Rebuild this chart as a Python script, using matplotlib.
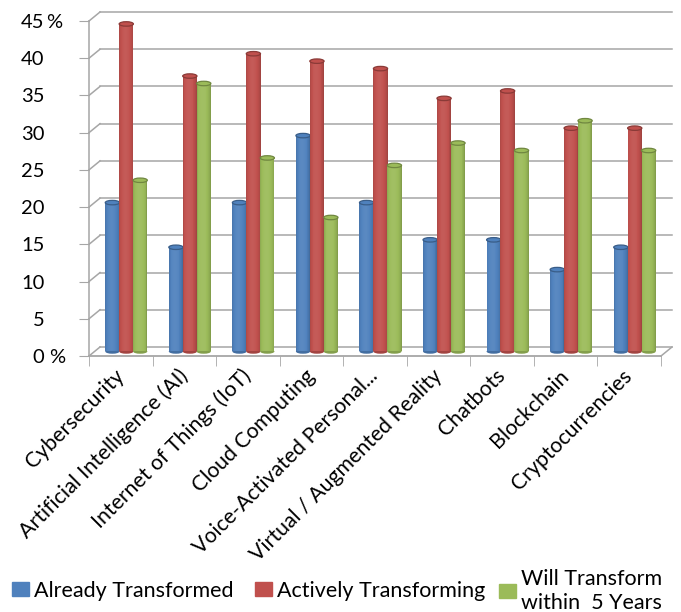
import numpy as np
import matplotlib.pyplot as plt
import matplotlib.patches as mpatches
from matplotlib.patches import Ellipse

plt.rcParams['font.family'] = ['Lato', 'DejaVu Sans']

categories = ['Cybersecurity', 'Artificial Intelligence (AI)', 'Internet of Things (IoT)',
              'Cloud Computing', 'Voice-Activated Personal...', 'Virtual / Augmented Reality',
              'Chatbots', 'Blockchain', 'Cryptocurrencies']
already = [20, 14, 20, 29, 20, 15, 15, 11, 14]
actively = [44, 37, 40, 39, 38, 34, 35, 30, 30]
within5 = [23, 36, 26, 18, 25, 28, 27, 31, 27]
series_names = ['Already Transformed', 'Actively Transforming', 'Will Transform\nwithin  5 Years']
colors = ['#4F81BD', '#C0504D', '#9BBB59']

W, H = 681, 612
fig = plt.figure(figsize=(W / 100, H / 100), dpi=100)
# front plane of the 3d box
ax = fig.add_axes([89 / W, (H - 356) / H, (661 - 89) / W, (356 - 21) / H])
ax.set_xlim(0, 9)
ax.set_ylim(0, 45)
for s in ax.spines.values():
    s.set_visible(False)

# depth offset (back wall) in data units
DX = 11 / 63.5
DY = 9 / 7.44
grid_c = '#A6A6A6'

yt = np.arange(0, 46, 5)
for v in yt:
    ax.plot([DX, 9 + DX], [v + DY, v + DY], color=grid_c, lw=1.1, clip_on=False, zorder=1)
    ax.plot([0, DX], [v, v + DY], color=grid_c, lw=1.1, clip_on=False, zorder=1)
# floor
ax.plot([0, 9], [0, 0], color=grid_c, lw=1.3, clip_on=False, zorder=1)
ax.plot([9, 9 + DX], [0, DY], color=grid_c, lw=1.1, clip_on=False, zorder=1)
ax.plot([0, 0], [0, 45], color=grid_c, lw=1.1, clip_on=False, zorder=1)

# ticks
ax.set_yticks(yt)
ax.set_yticklabels([str(v) for v in yt], fontsize=14.5, color='black')
ax.tick_params(axis='y', length=7, color=grid_c, pad=25)
ax.text(-0.075, 45, '%', transform=ax.get_yaxis_transform(), fontsize=14.5,
        ha='left', va='center_baseline')
ax.text(-0.07, 0, '%', transform=ax.get_yaxis_transform(), fontsize=14.5,
        ha='left', va='center_baseline')

ax.set_xticks(np.arange(0, 10), minor=True)
ax.set_xticks(np.arange(9) + 0.5)
ax.set_xticklabels(categories, rotation=45, ha='right', va='center',
                   rotation_mode='anchor', fontsize=15.3)
ax.tick_params(axis='x', which='major', length=0, pad=12)
ax.tick_params(axis='x', which='minor', length=7, color=grid_c)

# cylinders
bw = 0.224
offs = [-0.219, 0.0, 0.219]
N = 16
t = (np.arange(N) + 0.5) / N
shade = 0.84 + 0.26 * np.sin(np.pi * t) ** 0.5 - 0.08 * t
cap_h = 0.6


def tint(c, f):
    rgb = np.array(mpatches.Patch(color=c).get_facecolor()[:3])
    if f >= 1:
        return tuple(rgb + (1 - rgb) * (f - 1))
    return tuple(rgb * f)


for si, (vals, col) in enumerate(zip([already, actively, within5], colors)):
    for i, v in enumerate(vals):
        xc = i + 0.5 + offs[si] + DX / 2
        y0 = DY / 2
        x0 = xc - bw / 2
        ax.add_patch(Ellipse((xc, y0), bw, cap_h, color=tint(col, 0.85), zorder=3 + si,
                             clip_on=False, lw=0))
        for k in range(N):
            ax.bar(x0 + k * bw / N, v, width=bw / N * 1.05, bottom=y0, align='edge',
                   color=tint(col, shade[k]), lw=0, zorder=3 + si, clip_on=False)
        ax.add_patch(Ellipse((xc, y0 + v), bw, cap_h, facecolor=tint(col, 1.0),
                             edgecolor=tint(col, 0.72), lw=0.9, zorder=3 + si, clip_on=False))

# legend: one entry per block, placed like the original
leg_x = [12, 255, 499]
for name, col, lx in zip(series_names, colors, leg_x):
    fig.legend([mpatches.Patch(color=col)], [name], loc='center left',
               bbox_to_anchor=(lx / W, (H - 591) / H), frameon=False, fontsize=15.5,
               handlelength=0.8, handleheight=0.62, handletextpad=0.22,
               borderpad=0, borderaxespad=0, labelspacing=0)

fig.savefig('out.png', dpi=100)
